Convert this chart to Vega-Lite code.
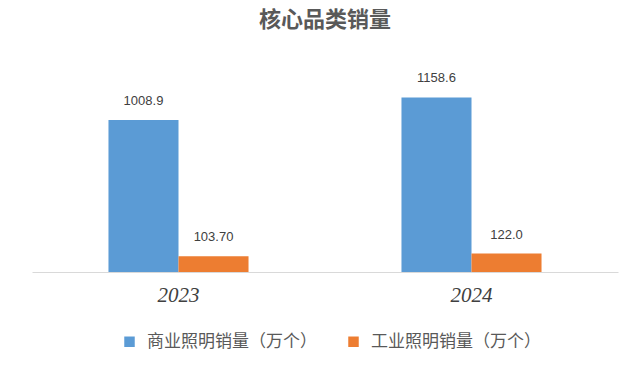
{
  "$schema": "https://vega.github.io/schema/vega-lite/v6.json",
  "width": 586,
  "height": 211,
  "autosize": "none",
  "padding": {"left": 32, "top": 61, "right": 17, "bottom": 95},
  "background": "white",
  "title": {
    "text": "核心品类销量",
    "font": "Noto Sans CJK SC",
    "fontSize": 22,
    "fontWeight": "bold",
    "color": "#595959",
    "anchor": "middle",
    "frame": "group",
    "offset": 29
  },
  "data": {
    "values": [
      {"year": "2023", "series": "商业照明销量（万个）", "value": 1008.9, "label": "1008.9"},
      {"year": "2023", "series": "工业照明销量（万个）", "value": 103.7, "label": "103.70"},
      {"year": "2024", "series": "商业照明销量（万个）", "value": 1158.6, "label": "1158.6"},
      {"year": "2024", "series": "工业照明销量（万个）", "value": 122.0, "label": "122.0"}
    ]
  },
  "encoding": {
    "x": {
      "field": "year",
      "type": "nominal",
      "scale": {"paddingInner": 0.522, "paddingOuter": 0.261},
      "axis": {
        "title": null,
        "labelAngle": 0,
        "ticks": false,
        "domainColor": "#d9d9d9",
        "domainWidth": 1,
        "labelFont": "Liberation Serif",
        "labelFontStyle": "italic",
        "labelFontSize": 21,
        "labelColor": "#404040",
        "labelPadding": 12
      }
    },
    "xOffset": {
      "field": "series",
      "type": "nominal",
      "scale": {"domain": ["商业照明销量（万个）", "工业照明销量（万个）"], "paddingInner": 0, "paddingOuter": 0}
    },
    "y": {
      "field": "value",
      "type": "quantitative",
      "scale": {"domain": [0, 1400]},
      "axis": null
    }
  },
  "layer": [
    {
      "mark": {"type": "bar"},
      "encoding": {
        "color": {
          "field": "series",
          "type": "nominal",
          "scale": {"domain": ["商业照明销量（万个）", "工业照明销量（万个）"], "range": ["#5b9bd5", "#ed7d31"]},
          "legend": {
            "title": null,
            "orient": "none",
            "direction": "horizontal",
            "legendX": 89,
            "legendY": 272,
            "symbolType": "square",
            "symbolSize": 110,
            "symbolStrokeWidth": 0,
            "labelFont": "Noto Sans CJK SC",
            "labelFontSize": 17,
            "labelColor": "#595959",
            "labelOffset": 9,
            "columnPadding": 28,
            "labelLimit": 300
          }
        }
      }
    },
    {
      "mark": {"type": "text", "baseline": "bottom", "dy": -12, "font": "Liberation Sans", "fontSize": 13, "color": "#404040"},
      "encoding": {
        "text": {"field": "label"}
      }
    }
  ],
  "config": {"view": {"stroke": null}}
}
